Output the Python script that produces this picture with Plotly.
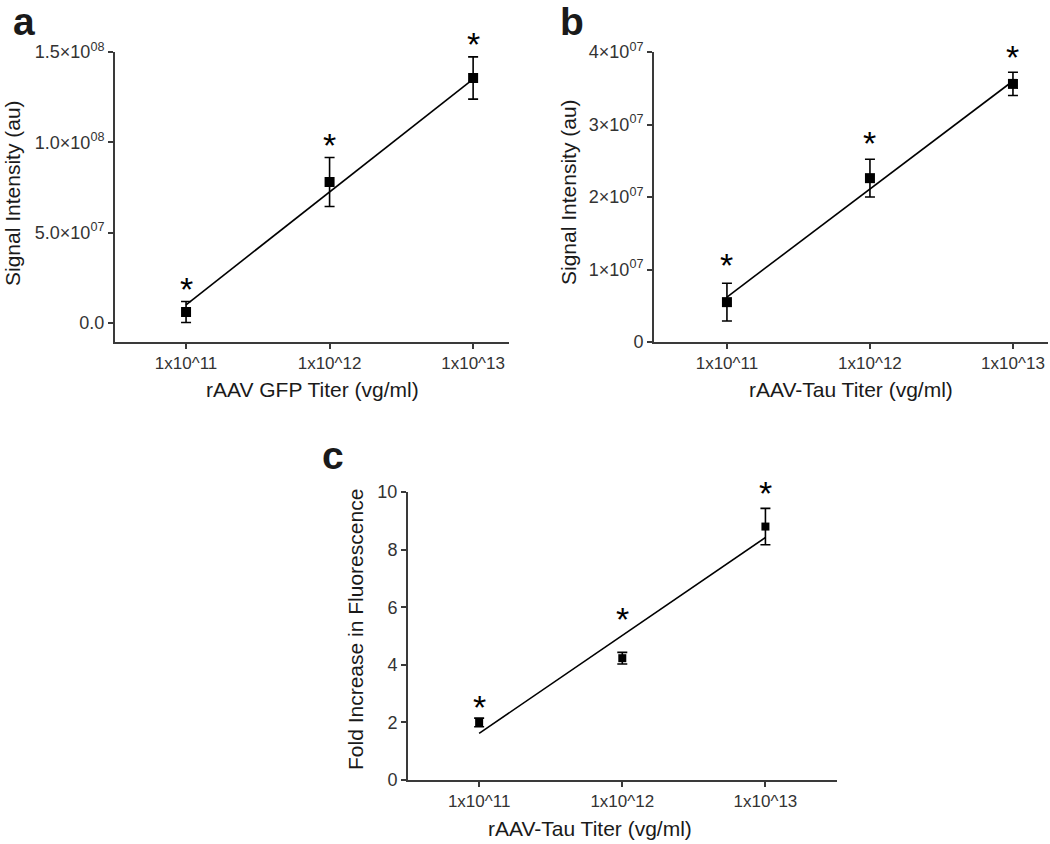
import plotly.graph_objects as go

# ---------------- data ----------------
titer_log = [11, 12, 13]
titer_labels = ["1x10^11", "1x10^12", "1x10^13"]

gfp_mean = [6.0e6, 7.8e7, 1.356e8]
gfp_err = [5.8e6, 1.36e7, 1.17e7]
gfp_fit = [1.0e7, 1.35e8]

tau_mean = [5.5e6, 2.26e7, 3.56e7]
tau_err = [2.6e6, 2.6e6, 1.6e6]
tau_fit = [6.2e6, 3.6e7]

fold_mean = [2.0, 4.23, 8.8]
fold_err = [0.15, 0.2, 0.63]
fold_fit = [1.62, 8.42]

a_ticks = [0, 5e7, 1e8, 1.5e8]
a_ticktext = ["0.0", "5.0×10<sup>07</sup>", "1.0×10<sup>08</sup>", "1.5×10<sup>08</sup>"]
b_ticks = [0, 1e7, 2e7, 3e7, 4e7]
b_ticktext = ["0", "1×10<sup>07</sup>", "2×10<sup>07</sup>", "3×10<sup>07</sup>", "4×10<sup>07</sup>"]
c_ticks = [0, 2, 4, 6, 8, 10]
c_ticktext = ["0", "2", "4", "6", "8", "10"]

# ---------------- style ----------------
W, H = 1050, 844
FONT = "Liberation Sans, Arial, sans-serif"
AXC = "#3a3a3a"
TICKC = "#333333"


def px(x0, x1):
    return [x0 / W, x1 / W]


def py(top, bottom):
    return [1 - bottom / H, 1 - top / H]


fig = go.Figure()

panels = [
    dict(x="x", y="y", mean=gfp_mean, err=gfp_err, fit=gfp_fit, msize=10,
         star_shift=[6, 5, 6]),
    dict(x="x2", y="y2", mean=tau_mean, err=tau_err, fit=tau_fit, msize=10,
         star_shift=[11, 9, 8]),
    dict(x="x3", y="y3", mean=fold_mean, err=fold_err, fit=fold_fit, msize=8,
         star_shift=[4, 26, 8]),
]

annotations = []
for p in panels:
    fig.add_trace(go.Scatter(
        x=[titer_log[0], titer_log[-1]], y=p["fit"], mode="lines",
        line=dict(color="black", width=1.6), xaxis=p["x"], yaxis=p["y"],
        showlegend=False, hoverinfo="skip"))
    fig.add_trace(go.Scatter(
        x=titer_log, y=p["mean"], mode="markers",
        marker=dict(symbol="square", size=p["msize"], color="black"),
        error_y=dict(type="data", array=p["err"], visible=True,
                     color="black", thickness=1.6, width=5),
        xaxis=p["x"], yaxis=p["y"], showlegend=False))
    for xv, m, e, s in zip(titer_log, p["mean"], p["err"], p["star_shift"]):
        annotations.append(dict(
            x=xv, y=m + e, xref=p["x"], yref=p["y"], text="*",
            showarrow=False, yanchor="bottom", yshift=s - 14,
            font=dict(family=FONT, size=34, color="black")))

common_x = dict(
    tickvals=titer_log, ticktext=titer_labels, showline=True, linecolor=AXC,
    linewidth=2, ticks="outside", ticklen=5, tickwidth=2, tickcolor=AXC,
    showgrid=False, zeroline=False,
    tickfont=dict(family=FONT, size=17, color=TICKC))
common_y = dict(
    showline=True, linecolor=AXC, linewidth=2, ticks="outside", ticklen=5,
    tickwidth=2, tickcolor=AXC, showgrid=False, zeroline=False,
    tickfont=dict(family=FONT, size=18, color=TICKC))

fig.update_layout(
    width=W, height=H,
    margin=dict(l=0, r=0, t=0, b=0, pad=0, autoexpand=False),
    paper_bgcolor="white", plot_bgcolor="white",
    font=dict(family=FONT),
    xaxis=dict(common_x, domain=px(115, 509), range=[10.505, 13.25], anchor="y"),
    yaxis=dict(common_y, domain=py(52, 342), range=[-1.06e7, 1.5e8],
               tickvals=a_ticks, ticktext=a_ticktext, anchor="x"),
    xaxis2=dict(common_x, domain=px(654, 1048), range=[10.49, 13.245], anchor="y2"),
    yaxis2=dict(common_y, domain=py(52, 342), range=[0, 4e7],
                tickvals=b_ticks, ticktext=b_ticktext, anchor="x2"),
    xaxis3=dict(common_x, domain=px(408, 837), range=[10.503, 13.5], anchor="y3"),
    yaxis3=dict(common_y, domain=py(492, 780), range=[0, 10],
                tickvals=c_ticks, ticktext=c_ticktext, anchor="x3"),
)


def lab(text, xc, yc, size=21, angle=0, bold=False):
    return dict(text=f"<b>{text}</b>" if bold else text, x=xc / W, y=1 - yc / H,
                xref="paper", yref="paper", showarrow=False, textangle=angle,
                xanchor="center", yanchor="middle",
                font=dict(family=FONT, size=size, color="#1a1a1a"))


annotations += [
    lab("Signal Intensity (au)", 13, 193, angle=-90),
    lab("rAAV GFP Titer (vg/ml)", 312, 389),
    lab("Signal Intensity (au)", 568, 192, angle=-90),
    lab("rAAV-Tau Titer (vg/ml)", 851, 389),
    lab("Fold Increase in Fluorescence", 355, 630, angle=-90),
    lab("rAAV-Tau Titer (vg/ml)", 590, 828),
    lab("a", 24, 22, size=39, bold=True),
    lab("b", 572, 22, size=39, bold=True),
    lab("c", 333, 455, size=39, bold=True),
]
fig.update_layout(annotations=annotations)

fig.write_html(
    "out.html",
    config={"displayModeBar": False},
    post_script="document.body.style.margin='0';document.body.style.overflow='hidden';",
)
